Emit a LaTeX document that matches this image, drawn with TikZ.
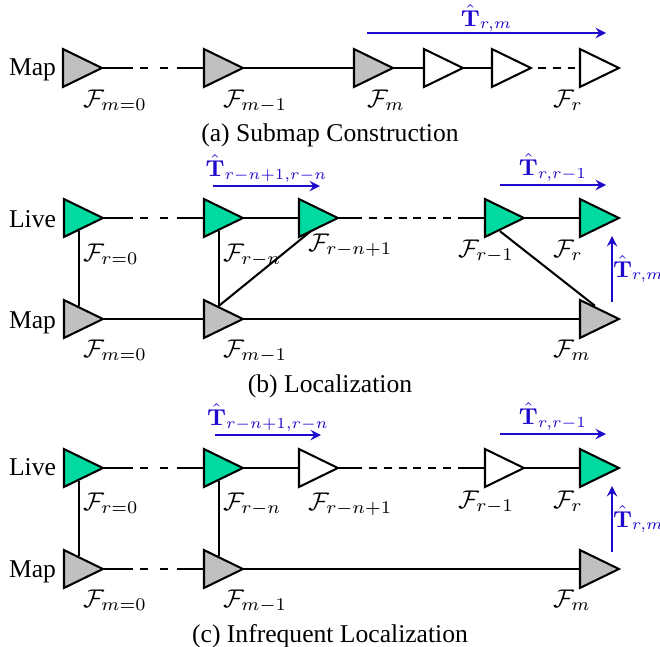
\documentclass[tikz,border=0pt]{standalone}
\usepackage{amsmath}
\usepackage[no-math]{fontspec}
\setmainfont{Liberation Serif}
\usetikzlibrary{shapes.geometric}
\definecolor{livegreen}{RGB}{0,217,160}
\definecolor{mapgray}{RGB}{192,192,192}
\definecolor{tblue}{RGB}{30,10,205}

\begin{document}
\begin{tikzpicture}[x=0.390625pt,y=-0.390625pt,>=stealth,line width=0.8pt]
      \tikzstyle{frame}=[draw,shape=isosceles triangle,isosceles triangle stretches,minimum width=14.8pt,minimum height=15.2pt,inner sep=0pt,outer sep=0pt,anchor=west];
      \tikzstyle{live}=[frame,fill=livegreen];
      \tikzstyle{map}=[frame,fill=mapgray];
      \tikzstyle{fresh}=[frame,fill=white];
      \tikzstyle{flabel}=[anchor=base west,inner sep=0pt];
      \tikzstyle{rowlabel}=[anchor=base east,inner sep=0pt];
      \tikzstyle{caption}=[anchor=base,inner sep=0pt];
      \tikzstyle{tarrow}=[->,draw=tblue,text=tblue,font=\small];
      \tikzstyle{shortgap}=[dash pattern=on 3.1pt off 4.7pt,dash phase=5.1pt];
      \tikzstyle{longgap}=[dash pattern=on 3.1pt off 2.7pt,dash phase=3.1pt];
      \useasboundingbox (0,0) rectangle (660,647);

        % (a) submap construction
        \node[rowlabel] (amap) at (57,75) {Map};
        \node[map] (a1) at (63,68) {};
        \node[map] (a2) at (204,68) {};
        \node[map] (a3) at (354,68) {};
        \node[fresh] (a4) at (424,68) {};
        \node[fresh] (a5) at (492,68) {};
        \node[fresh] (a6) at (580,68) {};
        \coordinate (ad1) at (133,68);
        \coordinate (ad2) at (177,68);

        \draw (a1) -- (ad1);
        \draw[shortgap] (ad1) -- (ad2);
        \draw (ad2) -- (a2);
        \draw (a2) -- (a3);
        \draw (a3) -- (a4);
        \draw (a4) -- (a5);
        \draw[longgap] (a5) -- (a6);

        \node[flabel] (fa1) at (82,107) {$\mathcal{F}_{m=0}$};
        \node[flabel] (fa2) at (222,107) {$\mathcal{F}_{m-1}$};
        \node[flabel] (fa3) at (366,107) {$\mathcal{F}_{m}$};
        \node[flabel] (fa6) at (552,107) {$\mathcal{F}_{r}$};

        \coordinate (at1) at (367,33);
        \coordinate (at2) at (606,33);
        \draw[tarrow] (at1) -- node[above,inner sep=0pt] (tam) {$\hat{\mathbf{T}}_{r,m}$} (at2);
        \node[caption] (capa) at (330,141) {(a) Submap Construction};

        % (b) localization
        \node[rowlabel] (blive) at (57,227) {Live};
        \node[rowlabel] (bmap) at (57,328) {Map};
        \node[live] (b1) at (64,218) {};
        \node[live] (b2) at (204,218) {};
        \node[live] (b3) at (299,218) {};
        \node[live] (b4) at (485,218) {};
        \node[live] (b5) at (580,218) {};
        \node[map] (bm1) at (64,319) {};
        \node[map] (bm2) at (204,319) {};
        \node[map] (bm3) at (580,319) {};
        \coordinate (bd1) at (133,218);
        \coordinate (bd2) at (177,218);
        \coordinate (bd3) at (362,218);
        \coordinate (bd4) at (462,218);

        \draw (b1) -- (bd1);
        \draw[shortgap] (bd1) -- (bd2);
        \draw (bd2) -- (b2);
        \draw (b2) -- (b3);
        \draw (b3) -- (bd3);
        \draw[longgap] (bd3) -- (bd4);
        \draw (bd4) -- (b4);
        \draw (b4) -- (b5);
        \draw (bm1) -- (bm2);
        \draw (bm2) -- (bm3);
        \draw ([xshift=1.2pt]b1.south) -- ([xshift=1.2pt]bm1.north);
        \draw ([xshift=1.2pt]b2.south) -- ([xshift=1.2pt]bm2.north);
        \draw ([xshift=1.2pt]bm2.north) -- (b3.south);
        \draw ([xshift=1.2pt]b4.south) -- ([xshift=1.2pt]bm3.north);

        \node[flabel] (fb1) at (82,261) {$\mathcal{F}_{r=0}$};
        \node[flabel] (fb2) at (222,261) {$\mathcal{F}_{r-n}$};
        \node[flabel] (fb3) at (307,251) {$\mathcal{F}_{r-n+1}$};
        \node[flabel] (fb4) at (457,257) {$\mathcal{F}_{r-1}$};
        \node[flabel] (fb5) at (552,257) {$\mathcal{F}_{r}$};
        \node[flabel] (fbm1) at (82,357) {$\mathcal{F}_{m=0}$};
        \node[flabel] (fbm2) at (222,357) {$\mathcal{F}_{m-1}$};
        \node[flabel] (fbm3) at (552,357) {$\mathcal{F}_{m}$};

        \coordinate (bt1) at (213,186);
        \coordinate (bt2) at (320,186);
        \coordinate (bt3) at (500,185);
        \coordinate (bt4) at (606,185);
        \coordinate (bt5) at (612,302);
        \coordinate (bt6) at (612,236);
        \draw[tarrow] (bt1) -- node[above,inner sep=1pt] (tbn) {$\hat{\mathbf{T}}_{r-n+1,r-n}$} (bt2);
        \draw[tarrow] (bt3) -- node[above,inner sep=1pt] (tbr) {$\hat{\mathbf{T}}_{r,r-1}$} (bt4);
        \draw[tarrow] (bt5) -- node[right,inner sep=0pt] (tbm) {$\hat{\mathbf{T}}_{r,m}$} (bt6);
        \node[caption] (capb) at (330,392) {(b) Localization};

        % (c) infrequent localization
        \node[rowlabel] (clive) at (57,475) {Live};
        \node[rowlabel] (cmap) at (57,577) {Map};
        \node[live] (c1) at (64,468) {};
        \node[live] (c2) at (204,468) {};
        \node[fresh] (c3) at (299,468) {};
        \node[fresh] (c4) at (485,468) {};
        \node[live] (c5) at (580,468) {};
        \node[map] (cm1) at (64,569) {};
        \node[map] (cm2) at (204,569) {};
        \node[map] (cm3) at (580,569) {};
        \coordinate (cd1) at (133,468);
        \coordinate (cd2) at (177,468);
        \coordinate (cd3) at (362,468);
        \coordinate (cd4) at (462,468);
        \coordinate (cd5) at (133,569);
        \coordinate (cd6) at (177,569);

        \draw (c1) -- (cd1);
        \draw[shortgap] (cd1) -- (cd2);
        \draw (cd2) -- (c2);
        \draw (c2) -- (c3);
        \draw (c3) -- (cd3);
        \draw[longgap] (cd3) -- (cd4);
        \draw (cd4) -- (c4);
        \draw (c4) -- (c5);
        \draw (cm1) -- (cd5);
        \draw[shortgap] (cd5) -- (cd6);
        \draw (cd6) -- (cm2);
        \draw (cm2) -- (cm3);
        \draw ([xshift=1.2pt]c1.south) -- ([xshift=1.2pt]cm1.north);
        \draw ([xshift=1.2pt]c2.south) -- ([xshift=1.2pt]cm2.north);

        \node[flabel] (fc1) at (82,510) {$\mathcal{F}_{r=0}$};
        \node[flabel] (fc2) at (222,510) {$\mathcal{F}_{r-n}$};
        \node[flabel] (fc3) at (307,510) {$\mathcal{F}_{r-n+1}$};
        \node[flabel] (fc4) at (457,508) {$\mathcal{F}_{r-1}$};
        \node[flabel] (fc5) at (552,508) {$\mathcal{F}_{r}$};
        \node[flabel] (fcm1) at (82,607) {$\mathcal{F}_{m=0}$};
        \node[flabel] (fcm2) at (222,607) {$\mathcal{F}_{m-1}$};
        \node[flabel] (fcm3) at (552,607) {$\mathcal{F}_{m}$};

        \coordinate (ct1) at (215,435);
        \coordinate (ct2) at (321,435);
        \coordinate (ct3) at (500,434);
        \coordinate (ct4) at (606,434);
        \coordinate (ct5) at (612,552);
        \coordinate (ct6) at (612,486);
        \draw[tarrow] (ct1) -- node[above,inner sep=1pt] (tcn) {$\hat{\mathbf{T}}_{r-n+1,r-n}$} (ct2);
        \draw[tarrow] (ct3) -- node[above,inner sep=1pt] (tcr) {$\hat{\mathbf{T}}_{r,r-1}$} (ct4);
        \draw[tarrow] (ct5) -- node[right,inner sep=0pt] (tcm) {$\hat{\mathbf{T}}_{r,m}$} (ct6);
        \node[caption] (capc) at (330,642) {(c) Infrequent Localization};
    \end{tikzpicture}
\end{document}
